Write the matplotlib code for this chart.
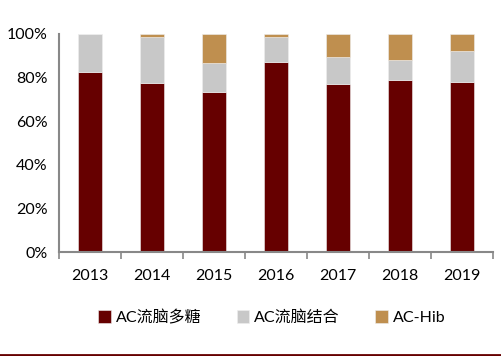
import matplotlib.pyplot as plt
from matplotlib.lines import Line2D

plt.rcParams['font.family'] = ['Lato', 'Noto Sans CJK SC', 'DejaVu Sans']

years = ['2013', '2014', '2015', '2016', '2017', '2018', '2019']
polysac = [82.4, 77.4, 73.5, 87.0, 76.9, 78.9, 78.1]
conjug = [17.6, 21.4, 13.2, 11.8, 12.4, 9.0, 14.1]
hib = [0.0, 1.2, 13.3, 1.2, 10.7, 12.1, 7.8]

labels = ['AC流脑多糖', 'AC流脑结合', 'AC-Hib']
colors = ['#660000', '#c8c8c8', '#bf8f4f']

fig = plt.figure(figsize=(5.02, 3.56), dpi=100)
ax = fig.add_axes([59 / 502, 1 - 252 / 356, 434 / 502, 218 / 356])

x = list(range(len(years)))
w = 0.4
bottom2 = [a + b for a, b in zip(polysac, conjug)]
ax.bar(x, polysac, w, color=colors[0], label=labels[0], edgecolor='#eeeeee', linewidth=0.4)
ax.bar(x, conjug, w, bottom=polysac, color=colors[1], label=labels[1], edgecolor='#eeeeee', linewidth=0.4)
ax.bar(x, hib, w, bottom=bottom2, color=colors[2], label=labels[2], edgecolor='#eeeeee', linewidth=0.4)

ax.set_xlim(-0.5, len(years) - 0.5)
ax.set_ylim(0, 100)
ax.set_yticks(range(0, 101, 20))
ax.set_yticklabels([f'{v}%' for v in range(0, 101, 20)], fontsize=11.5)
ax.set_xticks(x)
ax.set_xticklabels(years, fontsize=11.5)
ax.tick_params(axis='x', length=0, pad=12)
ax.tick_params(axis='y', length=0, pad=8)
ax.set_xticks([i - 0.5 for i in range(len(years) + 1)], minor=True)
ax.tick_params(axis='x', which='minor', length=5, color='#888888', width=1.2)

for s in ['top', 'right']:
    ax.spines[s].set_visible(False)
for s in ['left', 'bottom']:
    ax.spines[s].set_color('#888888')
    ax.spines[s].set_linewidth(1.5)

ax.legend(loc='upper center', bbox_to_anchor=(0.49, -0.2), ncol=3, frameon=False,
          fontsize=11.5, handlelength=0.8, handleheight=0.8, handletextpad=0.3,
          columnspacing=2.2)

fig.add_artist(Line2D([0, 1], [1.5 / 356, 1.5 / 356], color='#660000', linewidth=2,
                      transform=fig.transFigure))

fig.savefig('out.png', dpi=100)
